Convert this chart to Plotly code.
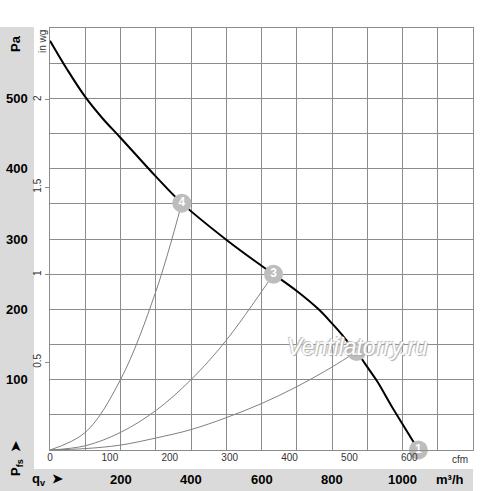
import plotly.graph_objects as go

# fan curve, m3/h vs Pa
fan_q = [0, 50, 100, 150, 200, 300, 374, 500, 600, 634, 700, 762, 800, 830, 851, 870, 896, 929, 967, 1033, 1045]
fan_pa = [582, 540, 502, 471, 444, 389, 351, 299, 262, 250, 226, 200, 180, 163, 150, 140, 121, 97, 64, 10, 0]

# operating points
pt_q = [1045, 870, 634, 374]
pt_pa = [0, 140, 250, 351]
pt_labels = ['1', '2', '3', '4']

# system curves
sys2_q = [0, 100, 200, 300, 400, 500, 600, 700, 800, 870]
sys2_pa = [0, 2, 7, 17, 29, 46, 66, 90, 118, 140]
sys3_q = [0, 100, 200, 300, 400, 500, 634]
sys3_pa = [0, 6, 25, 56, 100, 156, 250]
sys4_q = [0, 100, 200, 300, 374]
sys4_pa = [0, 25, 100, 225, 351]

pa_ticks = [100, 200, 300, 400, 500]
inwg_ticks = [0.5, 1, 1.5, 2]
m3h_ticks = [200, 400, 600, 800, 1000]
cfm_ticks = [0, 100, 200, 300, 400, 500, 600]

W, H = 500, 491
L, R, T, B = 50, 27, 28, 41
pw, ph = W - L - R, H - T - B

def px(x):
    return (x - L) / pw

def py(y):
    return (H - B - y) / ph

FONT = 'Liberation Sans, Arial, sans-serif'
GRID = '#8c8c8c'
BAND = '#dadada'

fig = go.Figure()

for q, pa in [(sys2_q, sys2_pa), (sys3_q, sys3_pa), (sys4_q, sys4_pa)]:
    fig.add_trace(go.Scatter(x=q, y=pa, mode='lines', line=dict(color='#808080', width=1, shape='spline'),
                             hoverinfo='skip', showlegend=False))

fig.add_trace(go.Scatter(x=fan_q, y=fan_pa, mode='lines', line=dict(color='black', width=2, shape='spline', smoothing=1),
                         showlegend=False))

fig.add_trace(go.Scatter(x=pt_q, y=pt_pa, mode='markers+text', text=pt_labels, textposition='middle center',
                         textfont=dict(color='white', size=12, family=FONT, weight='bold'),
                         marker=dict(size=19, color='#bdbdbd', line=dict(width=0)),
                         cliponaxis=False, showlegend=False))

# invisible traces so the secondary axes are drawn
fig.add_trace(go.Scatter(x=[0], y=[0], xaxis='x2', yaxis='y', mode='markers', marker=dict(opacity=0),
                         showlegend=False, hoverinfo='skip'))
fig.add_trace(go.Scatter(x=[0], y=[0], xaxis='x', yaxis='y2', mode='markers', marker=dict(opacity=0),
                         showlegend=False, hoverinfo='skip'))

shapes = [
    # left band
    dict(type='rect', xref='paper', yref='paper', x0=px(0), x1=px(34), y0=py(491), y1=py(27),
         fillcolor=BAND, line=dict(width=0), layer='below'),
    # bottom band
    dict(type='rect', xref='paper', yref='paper', x0=px(0), x1=px(473), y0=py(491), y1=py(469),
         fillcolor=BAND, line=dict(width=0), layer='below'),
]

bold = dict(family=FONT, size=13, color='black', weight='bold')
small = dict(family=FONT, size=10, color='#333')

def label(x, y, text, font, xref='paper', yref='paper', angle=0):
    return dict(x=x, y=y, xref=xref, yref=yref, text=text, font=font, textangle=angle,
                showarrow=False, xanchor='center', yanchor='middle')

ann = []
for v in pa_ticks:
    ann.append(label(px(17), v, str(v), bold, yref='y'))
for v in m3h_ticks:
    ann.append(label(v, py(479), str(v), bold, xref='x'))
ann += [
    label(px(16), py(44), 'Pa', bold, angle=-90),
    label(px(16), py(459), 'P<sub>fs</sub>  ➤', bold, angle=-90),
    label(px(47), py(479), 'q<sub>v</sub>  ➤', bold),
    label(px(450), py(479), 'm³/h', bold),
    label(px(460), py(459), 'cfm', small),
    label(px(42), py(42), 'in wg', small, angle=-90),
    label(px(357), py(347), 'Ventilatorry.ru',
          dict(family=FONT, size=23, color='white', style='italic',
               shadow='1px 1px 1px #aaa, -1px -1px 1px #bbb')),
]

fig.update_layout(
    width=W, height=H,
    margin=dict(l=L, r=R, t=T, b=B, pad=0),
    paper_bgcolor='white', plot_bgcolor='white',
    showlegend=False,
    shapes=shapes, annotations=ann,
    xaxis=dict(range=[0, 1200], dtick=100, showgrid=True, gridcolor=GRID, gridwidth=1,
               showticklabels=False, ticks='', zeroline=False, automargin=False,
               showline=True, linecolor=GRID, linewidth=1, mirror=True),
    xaxis2=dict(range=[0, 1200 / 1.699], overlaying='x', side='bottom', tickvals=cfm_ticks,
                showgrid=False, zeroline=False, ticks='', automargin=False,
                tickfont=small),
    yaxis=dict(range=[0, 600], dtick=50, showgrid=True, gridcolor=GRID, gridwidth=1,
               showticklabels=False, ticks='', zeroline=False, automargin=False,
               showline=True, linecolor=GRID, linewidth=1, mirror=True),
    yaxis2=dict(range=[0, 600 / 249.089], overlaying='y', side='left', tickvals=inwg_ticks,
                ticktext=[str(v) for v in inwg_ticks], tickangle=-90, showgrid=False, zeroline=False,
                ticks='outside', ticklen=4, tickcolor=GRID, automargin=False,
                tickfont=small),
)

# the page body has a default 8px margin; drop it so the figure sits at the window corner
fig.write_html('out.html', config={'displayModeBar': False},
               post_script="document.body.style.margin='0';")
